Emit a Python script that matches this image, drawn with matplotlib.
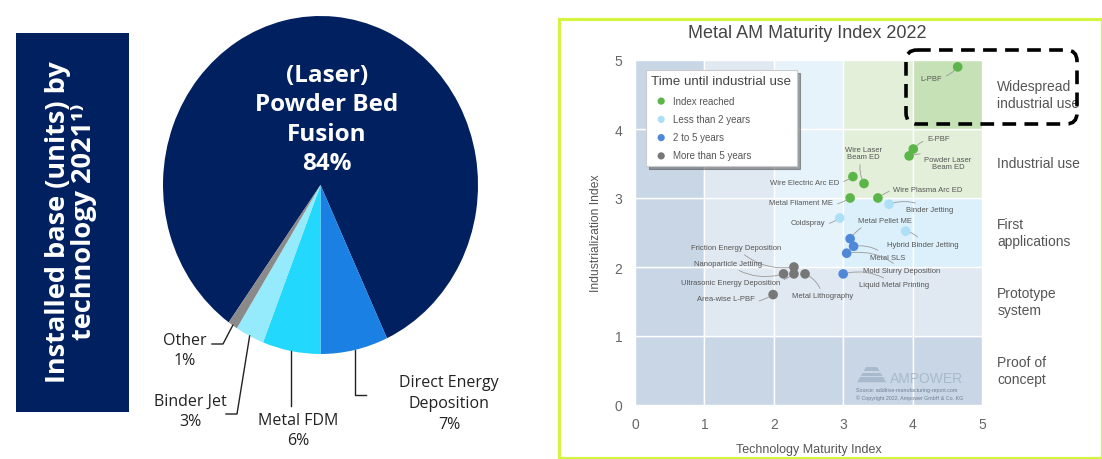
import matplotlib
matplotlib.use("Agg")
import matplotlib.pyplot as plt
import numpy as np
from matplotlib.patches import Rectangle, FancyBboxPatch, Polygon

# ---- installed base by technology (pie) ----
tech_names = ["(Laser)\nPowder Bed\nFusion", "Direct Energy\nDeposition", "Metal FDM", "Binder Jet", "Other"]
tech_share = [84, 7, 6, 3, 1]
tech_colors = ["#002060", "#1a80e4", "#22d9fd", "#95eafc", "#8a8a8a"]

# ---- maturity index scatter ----
tech_points = [
    "L-PBF", "E-PBF", "Powder Laser\nBeam ED", "Wire Laser\nBeam ED", "Wire Electric Arc ED",
    "Metal Filament ME", "Wire Plasma Arc ED", "Binder Jetting", "Coldspray",
    "Hybrid Binder Jetting", "Metal Pellet ME", "Metal SLS", "Mold Slurry Deposition",
    "Liquid Metal Printing", "Friction Energy Deposition", "Nanoparticle Jetting",
    "Ultrasonic Energy Deposition", "Metal Lithography", "Area-wise L-PBF",
]
maturity = [4.65, 4.01, 3.95, 3.30, 3.14, 3.10, 3.50, 3.66, 2.95, 3.90,
            3.10, 3.15, 3.05, 3.00, 2.29, 2.14, 2.29, 2.45, 1.99]
industrialization = [4.90, 3.71, 3.61, 3.21, 3.31, 3.00, 3.00, 2.91, 2.71, 2.52,
                     2.41, 2.30, 2.20, 1.90, 2.00, 1.90, 1.90, 1.90, 1.60]
time_group = [0, 0, 0, 0, 0, 0, 0, 1, 1, 1, 2, 2, 2, 2, 3, 3, 3, 3, 3]
group_names = ["Index reached", "Less than 2 years", "2 to 5 years", "More than 5 years"]
group_colors = ["#5cb548", "#addff6", "#4f88d8", "#777777"]
stage_names = ["Proof of\nconcept", "Prototype\nsystem", "First\napplications",
               "Industrial use", "Widespread\nindustrial use"]

# label anchors (data coords) and alignment for each point
label_pos = {
    "L-PBF": (4.27, 4.73, "center"),
    "E-PBF": (4.37, 3.86, "center"),
    "Powder Laser\nBeam ED": (4.51, 3.51, "center"),
    "Wire Laser\nBeam ED": (3.29, 3.65, "center"),
    "Wire Electric Arc ED": (2.95, 3.23, "right"),
    "Metal Filament ME": (2.86, 2.94, "right"),
    "Wire Plasma Arc ED": (3.72, 3.13, "left"),
    "Binder Jetting": (3.90, 2.83, "left"),
    "Coldspray": (2.74, 2.64, "right"),
    "Hybrid Binder Jetting": (3.63, 2.33, "left"),
    "Metal Pellet ME": (3.21, 2.67, "left"),
    "Metal SLS": (3.38, 2.14, "left"),
    "Mold Slurry Deposition": (3.29, 1.95, "left"),
    "Liquid Metal Printing": (3.23, 1.74, "left"),
    "Friction Energy Deposition": (2.11, 2.28, "right"),
    "Nanoparticle Jetting": (1.83, 2.05, "right"),
    "Ultrasonic Energy Deposition": (2.09, 1.78, "right"),
    "Metal Lithography": (2.26, 1.58, "left"),
    "Area-wise L-PBF": (1.73, 1.54, "right"),
}

# background cell shading, rows bottom->top, columns left->right
DK, GR, CL, CY, GL, GD = "#c9d6e5", "#e0e8f1", "#e7f3fb", "#dcf0fb", "#e3efd9", "#c7e1b6"
cell_colors = [
    [DK, DK, DK, DK, DK],
    [DK, GR, GR, GR, GR],
    [DK, GR, CL, CY, CY],
    [DK, GR, CL, GL, GL],
    [DK, GR, CL, GL, GD],
]

W, H = 1102, 460
fig = plt.figure(figsize=(W / 100, H / 100), dpi=100)

# full-figure overlay in pixel units (y down)
ov = fig.add_axes([0, 0, 1, 1], zorder=5)
ov.set_xlim(0, W)
ov.set_ylim(H, 0)
ov.axis("off")

# ---------------- left: pie ----------------
cx, cy, rx, ry = 320.5, 186, 157.5, 169
ax_pie = fig.add_axes([(cx - rx) / W, (H - cy - ry) / H, 2 * rx / W, 2 * ry / H])
total = sum(tech_share)
start = -90 + (tech_share[0] + tech_share[1]) / total * 360
wedges, _ = ax_pie.pie(tech_share, colors=tech_colors, startangle=start,
                       counterclock=False, wedgeprops=dict(linewidth=0))
ax_pie.set_aspect("auto")
ax_pie.set_xlim(-1, 1)
ax_pie.set_ylim(-1, 1)


def edge_point(w):
    mid = np.deg2rad((w.theta1 + w.theta2) / 2)
    disp = ax_pie.transData.transform((np.cos(mid), np.sin(mid)))
    return ov.transData.inverted().transform(disp)


sans = ["Open Sans", "DejaVu Sans"]
ov.text(327, 120, f"{tech_names[0]}\n{tech_share[0]}%", ha="center", va="center",
        color="white", fontsize=17.5, fontweight="bold", family=sans, linespacing=1.28)

lbl_kw = dict(ha="center", va="center", fontsize=11.5, color="#222222", family=sans,
              linespacing=1.4)
line_kw = dict(color="#222222", lw=1.0)

# Other
px, py = edge_point(wedges[4])
ov.plot([px, 223, 212], [py, 345, 345], **line_kw)
ov.text(185, 351, f"{tech_names[4]}\n{tech_share[4]}%", **lbl_kw)
# Binder Jet
px, py = edge_point(wedges[3])
ov.plot([px, 237, 226], [py, 415, 415], **line_kw)
ov.text(190, 412, f"{tech_names[3]}\n{tech_share[3]}%", **lbl_kw)
# Metal FDM
px, py = edge_point(wedges[2])
ov.plot([px, px], [py, 407], **line_kw)
ov.text(298, 431, f"{tech_names[2]}\n{tech_share[2]}%", **lbl_kw)
# DED
px, py = edge_point(wedges[1])
ov.plot([px, px, 366], [py, 396, 396], **line_kw)
ov.text(449, 404, f"{tech_names[1]}\n{tech_share[1]}%", **lbl_kw)

# vertical caption box
ov.add_patch(Rectangle((16, 34), 113, 379, facecolor="#002060", edgecolor="none"))
ov.text(71, 222, "Installed base (units) by\ntechnology 2021¹⁾", rotation=90,
        ha="center", va="center", color="white", fontsize=19.5, fontweight="bold",
        family=sans, linespacing=1.02)

# ---------------- right: maturity index ----------------
ov.add_patch(Rectangle((558.5, 19.5), 543, 439, fill=False, edgecolor="#d3f541", lw=2.3))

arial = ["Liberation Sans", "DejaVu Sans"]
ax = fig.add_axes([635 / W, (H - 406) / H, 347 / W, 345 / H])
ax.set_xlim(0, 5)
ax.set_ylim(0, 5)
for r, row in enumerate(cell_colors):
    for c, col in enumerate(row):
        ax.add_patch(Rectangle((c, r), 1, 1, facecolor=col, edgecolor="white", lw=1.0, zorder=0))
for s in ax.spines.values():
    s.set_visible(False)
ax.set_xticks(range(6))
ax.set_yticks(range(6))
ax.tick_params(length=0, labelsize=10, colors="#666666", pad=9)
for t in ax.get_xticklabels() + ax.get_yticklabels():
    t.set_family(arial)
ax.set_xlabel("Technology Maturity Index", fontsize=9, color="#555555", family=arial, labelpad=8)
ax.set_ylabel("Industrialization Index", fontsize=8.7, color="#555555", family=arial, labelpad=9)

for i, name in enumerate(stage_names):
    ax.text(5.22, i + 0.5, name, ha="left", va="center", fontsize=10, color="#555555",
            family=arial, clip_on=False, linespacing=1.2)

for g, gname in enumerate(group_names):
    idx = [i for i, v in enumerate(time_group) if v == g]
    ax.scatter([maturity[i] for i in idx], [industrialization[i] for i in idx], s=48,
               color=group_colors[g], edgecolors="none", label=gname, zorder=3)

for i, name in enumerate(tech_points):
    lx, ly, ha = label_pos[name]
    ax.annotate(name, xy=(maturity[i], industrialization[i]), xytext=(lx, ly),
                ha=ha, va="center", fontsize=5.5, color="#555555", family=arial,
                linespacing=1.1, zorder=4,
                arrowprops=dict(arrowstyle="-", color="#9a9a9a", lw=0.6, shrinkA=1,
                                shrinkB=3.5, connectionstyle="arc3,rad=0.25"))

leg = ax.legend(title="Time until industrial use", loc="upper left",
                bbox_to_anchor=(0.018, 0.985), title_fontsize=9.6,
                frameon=True, shadow=True, fancybox=False, edgecolor="#cccccc",
                labelspacing=0.85, handletextpad=0.25, borderpad=0.55, markerscale=0.75,
                alignment="left", prop={"family": arial, "size": 7})
leg.get_title().set_color("#444444")
leg.get_title().set_family(arial)
for t in leg.get_texts():
    t.set_color("#555555")
leg.get_frame().set_linewidth(0.8)

# watermark
ax.text(3.67, 0.39, "AMPOWER", ha="left", va="center", fontsize=10, color="#a8bace",
        family=arial, zorder=2)
ax.add_patch(Polygon([(3.20, 0.33), (3.62, 0.33), (3.49, 0.55), (3.33, 0.55)],
                     closed=True, facecolor="#a8bace", edgecolor="none", zorder=2))
for yy in (0.40, 0.47):
    ax.add_patch(Rectangle((3.18, yy), 0.46, 0.025, facecolor=DK, edgecolor="none", zorder=2))
ax.text(3.18, 0.22, "Source: additive-manufacturing-report.com", ha="left", va="center",
        fontsize=3.8, color="#6d7f93", family=arial, zorder=2)
ax.text(3.18, 0.12, "© Copyright 2022, Ampower GmbH & Co. KG", ha="left", va="center",
        fontsize=3.8, color="#6d7f93", family=arial, zorder=2)

ov.text(807, 33, "Metal AM Maturity Index 2022", ha="center", va="center", fontsize=13,
        color="#444444", family=arial)

# highlight around widespread industrial use
ov.add_patch(FancyBboxPatch((906, 51), 171, 74, boxstyle="round,pad=0,rounding_size=11",
                            fill=False, edgecolor="black", lw=2.6, linestyle=(0, (3.8, 2.3))))

fig.savefig("out.png", dpi=100)
